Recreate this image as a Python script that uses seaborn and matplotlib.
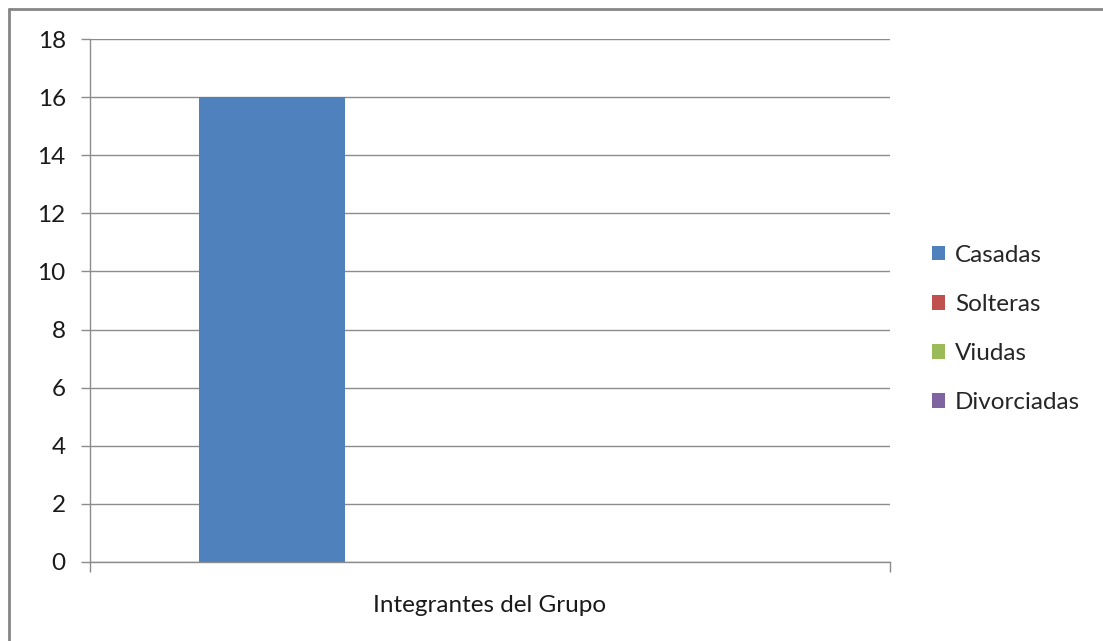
import matplotlib
matplotlib.use("Agg")
import matplotlib.pyplot as plt
import seaborn as sns
import pandas as pd
from matplotlib.lines import Line2D

categorias = ["Integrantes del Grupo"]
series = ["Casadas", "Solteras", "Viudas", "Divorciadas"]
valores = [16, 0, 0, 0]
colores = ["#4F81BD", "#C0504D", "#9BBB59", "#8064A2"]
yticks = [0, 2, 4, 6, 8, 10, 12, 14, 16, 18]

sns.set_theme(style="white")
plt.rcParams["font.family"] = ["Lato", "DejaVu Sans"]

FS = 17.5

df = pd.DataFrame({
    "categoria": categorias * len(series),
    "serie": series,
    "valor": valores,
})

fig = plt.figure(figsize=(11.03, 6.41), dpi=100)
ax = fig.add_axes([90 / 1103, 1 - 562 / 641, 800 / 1103, (562 - 39) / 641])

sns.barplot(data=df, x="categoria", y="valor", hue="serie", hue_order=series,
            palette=colores, width=4 / 5.5, dodge=True, saturation=1,
            errorbar=None, ax=ax, legend=True, linewidth=0, edgecolor="none")

ax.set_xlim(-0.5, 0.5)
ax.set_ylim(0, 18)
ax.set_yticks(yticks)
ax.set_yticklabels([str(t) for t in yticks], fontsize=FS, color="#1a1a1a")
ax.yaxis.grid(True, color="#8c8c8c", linewidth=1)
ax.set_axisbelow(True)
for s in ["top", "right"]:
    ax.spines[s].set_visible(False)
for s in ["left", "bottom"]:
    ax.spines[s].set_color("#8c8c8c")
    ax.spines[s].set_linewidth(1)
ax.tick_params(axis="y", which="major", direction="out", length=6.5, width=1,
               color="#8c8c8c", left=True, pad=11)
ax.set_xticks([0])
ax.set_xticklabels(categorias, fontsize=FS, color="#1a1a1a")
ax.tick_params(axis="x", which="major", length=0, pad=24)
ax.set_xticks([-0.5, 0.5], minor=True)
ax.tick_params(axis="x", which="minor", direction="out", length=7, width=1,
               color="#8c8c8c", bottom=True)
ax.set_xlabel("")
ax.set_ylabel("")

handles, labels = ax.get_legend_handles_labels()
if ax.get_legend() is not None:
    ax.get_legend().remove()
fig.legend(handles, labels, loc="center left", bbox_to_anchor=(932 / 1103, 1 - 329 / 641),
           frameon=False, fontsize=FS, handlelength=0.55, handleheight=0.55,
           handletextpad=0.4, labelspacing=1.16, borderpad=0, borderaxespad=0)

# outer chart border (top and left visible edges)
fig.add_artist(Line2D([9 / 1103, 9 / 1103], [0, 1 - 9 / 641], transform=fig.transFigure,
                      color="#868686", linewidth=2))
fig.add_artist(Line2D([9 / 1103, 1], [1 - 9 / 641, 1 - 9 / 641], transform=fig.transFigure,
                      color="#868686", linewidth=2))

fig.savefig("out.png", dpi=100)
